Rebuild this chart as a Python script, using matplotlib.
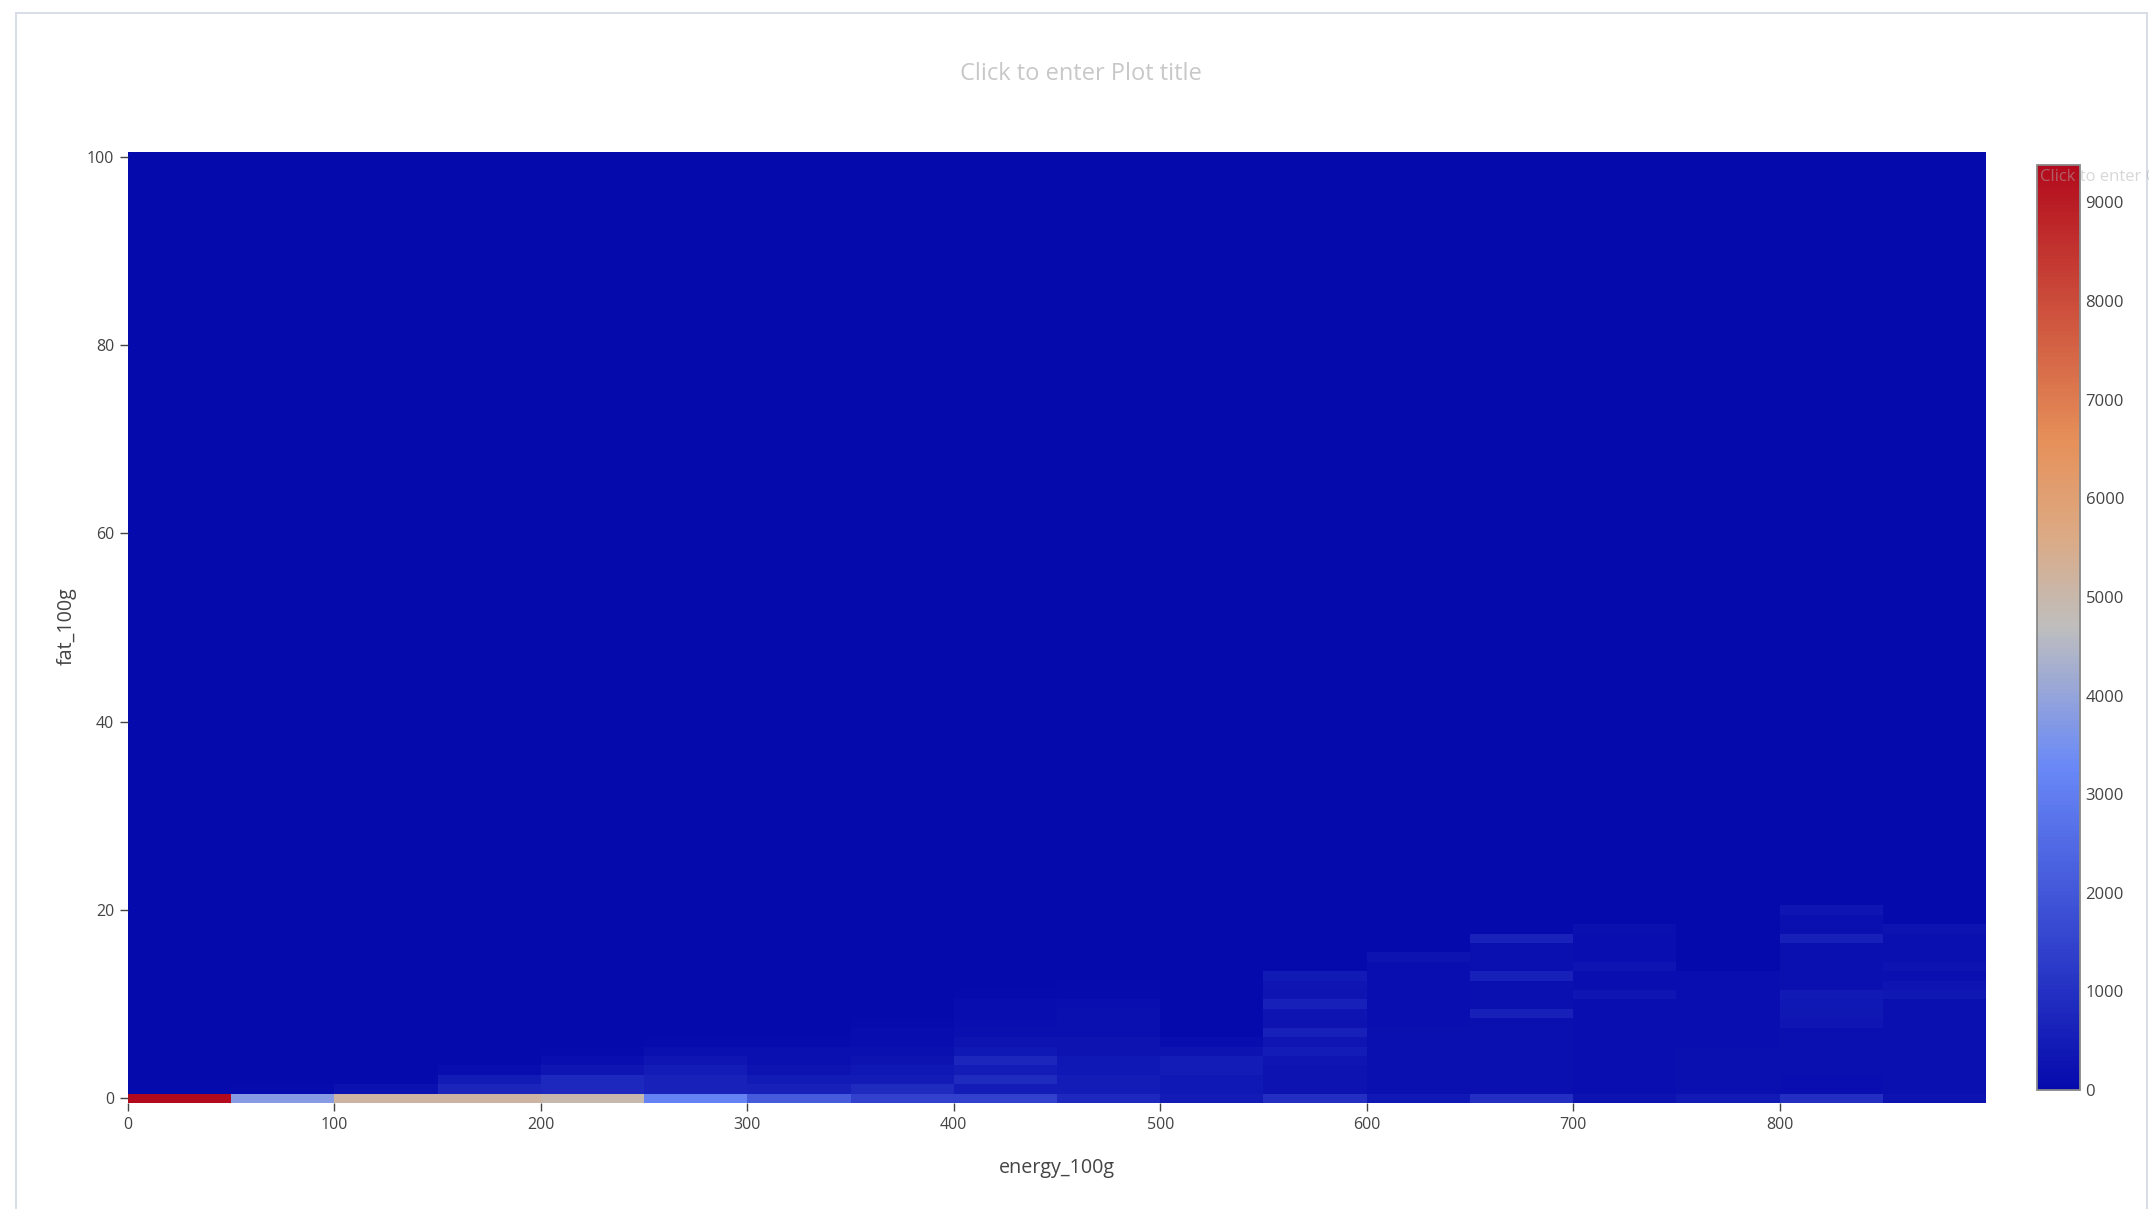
import matplotlib
matplotlib.use("Agg")
import matplotlib.pyplot as plt
import numpy as np
from matplotlib.colors import LinearSegmentedColormap
from matplotlib.lines import Line2D

plt.rcParams["font.family"] = ["Open Sans", "DejaVu Sans"]

# --------------------------------------------------------------------------
# Data: 2D histogram energy_100g x fat_100g (counts)
# --------------------------------------------------------------------------
energy_edges = [0, 50, 100, 150, 200, 250, 300, 350, 400, 450,
                500, 550, 600, 650, 700, 750, 800, 850, 900]
fat_edges = np.arange(-0.5, 101.0, 1.0)   # bins of width 1, centred on integers

# one row per fat bin (fat = 0, 1, 2, ...), one value per energy bin
# rows above fat = 20 are empty
counts_low = [
    [9380, 3750, 5160, 5160, 4970, 3090, 2110, 1460, 1460, 800, 450, 975, 330, 975, 250, 420, 975, 230],
    [0, 60, 200, 700, 800, 650, 600, 850, 500, 500, 350, 250, 160, 160, 130, 160, 130, 160],
    [0, 0, 30, 450, 800, 650, 450, 450, 850, 500, 350, 250, 160, 160, 130, 180, 130, 160],
    [0, 0, 0, 100, 300, 500, 250, 330, 500, 350, 500, 250, 160, 180, 130, 180, 160, 160],
    [0, 0, 0, 0, 120, 300, 170, 250, 750, 350, 500, 300, 160, 180, 130, 180, 160, 160],
    [0, 0, 0, 0, 40, 150, 150, 180, 330, 250, 250, 500, 160, 160, 130, 180, 160, 180],
    [0, 0, 0, 0, 0, 50, 60, 100, 250, 250, 80, 300, 160, 160, 130, 130, 160, 180],
    [0, 0, 0, 0, 0, 0, 30, 100, 180, 160, 0, 600, 160, 160, 130, 130, 180, 160],
    [0, 0, 0, 0, 0, 0, 0, 40, 130, 160, 0, 250, 120, 180, 130, 130, 300, 160],
    [0, 0, 0, 0, 0, 0, 0, 0, 100, 160, 0, 280, 120, 600, 130, 130, 380, 160],
    [0, 0, 0, 0, 0, 0, 0, 0, 80, 130, 0, 600, 120, 180, 130, 130, 350, 160],
    [0, 0, 0, 0, 0, 0, 0, 0, 60, 60, 0, 280, 120, 180, 300, 130, 420, 380],
    [0, 0, 0, 0, 0, 0, 0, 0, 0, 40, 0, 300, 120, 180, 130, 130, 180, 260],
    [0, 0, 0, 0, 0, 0, 0, 0, 0, 0, 0, 420, 120, 600, 130, 130, 180, 180],
    [0, 0, 0, 0, 0, 0, 0, 0, 0, 0, 0, 0, 120, 180, 260, 0, 180, 220],
    [0, 0, 0, 0, 0, 0, 0, 0, 0, 0, 0, 0, 220, 180, 130, 0, 180, 180],
    [0, 0, 0, 0, 0, 0, 0, 0, 0, 0, 0, 0, 0, 160, 130, 0, 180, 180],
    [0, 0, 0, 0, 0, 0, 0, 0, 0, 0, 0, 0, 0, 650, 130, 0, 600, 180],
    [0, 0, 0, 0, 0, 0, 0, 0, 0, 0, 0, 0, 0, 0, 180, 0, 180, 220],
    [0, 0, 0, 0, 0, 0, 0, 0, 0, 0, 0, 0, 0, 0, 0, 0, 180, 0],
    [0, 0, 0, 0, 0, 0, 0, 0, 0, 0, 0, 0, 0, 0, 0, 0, 300, 0],
]
count_max = 9380

x_ticks = [0, 100, 200, 300, 400, 500, 600, 700, 800]
y_ticks = [0, 20, 40, 60, 80, 100]
cbar_ticks = [0, 1000, 2000, 3000, 4000, 5000, 6000, 7000, 8000, 9000]

# plotly "RdBu" (reversed) colorscale
scale_stops = [0.0, 0.35, 0.5, 0.6, 0.7, 1.0]
scale_rgb = [(5, 10, 172), (106, 137, 247), (190, 190, 190),
             (220, 170, 132), (230, 145, 90), (178, 10, 28)]
cmap = LinearSegmentedColormap.from_list(
    "plotly_rdbu", [(s, tuple(c / 255 for c in rgb)) for s, rgb in zip(scale_stops, scale_rgb)])

W, H = 2149, 1209
TXT = "#444444"

counts = np.zeros((len(fat_edges) - 1, len(energy_edges) - 1))
counts[:len(counts_low)] = np.array(counts_low)

fig = plt.figure(figsize=(W / 100, H / 100), dpi=100)
fig.patch.set_facecolor("white")

# plot area (pixel box from the reference)
l, r, t, b = 128, 1986, 152, 1103
ax = fig.add_axes([l / W, 1 - b / H, (r - l) / W, (b - t) / H])
mesh = ax.pcolormesh(energy_edges, fat_edges, counts, cmap=cmap,
                     vmin=0, vmax=count_max, shading="flat")
ax.set_xlim(0, 900)
ax.set_ylim(-0.5, 100.5)
ax.set_xticks(x_ticks)
ax.set_yticks(y_ticks)
for s in ax.spines.values():
    s.set_visible(False)
ax.tick_params(axis="both", length=6, width=1, color="#444444",
               labelsize=11.5, labelcolor=TXT, pad=4)

fig.text(1057 / W, 1 - 1168 / H, "energy_100g", ha="center", va="center",
         fontsize=14.2, color=TXT)
fig.text(67 / W, 1 - 626 / H, "fat_100g", ha="center", va="center",
         rotation=90, fontsize=14.2, color=TXT)
fig.text(1081 / W, 1 - 74 / H, "Click to enter Plot title", ha="center",
         va="center", fontsize=17, color="#c8c8c8")

# colorbar
cl, cr, ct, cbt = 2037, 2080, 165, 1090
cax = fig.add_axes([cl / W, 1 - cbt / H, (cr - cl) / W, (cbt - ct) / H])
cb = fig.colorbar(mesh, cax=cax, ticks=cbar_ticks)
cb.outline.set_edgecolor("#888888")
cb.outline.set_linewidth(1.3)
cax.tick_params(length=0, labelsize=12, labelcolor=TXT, pad=4)
# placeholder colorbar title, clipped by the right edge as in the reference
fig.text(2040 / W, 1 - 177 / H, "Click to enter Colorscale title", ha="left",
         va="center", fontsize=12, color="#b0b0b0", alpha=0.5, zorder=10)

# light frame round the chart
frame = "#d5dae6"
fx0, fx1, fy0 = 16 / W, 2147 / W, 1 - 13 / H
fig.add_artist(Line2D([fx0, fx0], [0, fy0], transform=fig.transFigure, color=frame, lw=1.3))
fig.add_artist(Line2D([fx0, fx1], [fy0, fy0], transform=fig.transFigure, color=frame, lw=1.3))
fig.add_artist(Line2D([fx1, fx1], [0, fy0], transform=fig.transFigure, color=frame, lw=1.3))

fig.savefig("out.png", dpi=100, facecolor="white")
